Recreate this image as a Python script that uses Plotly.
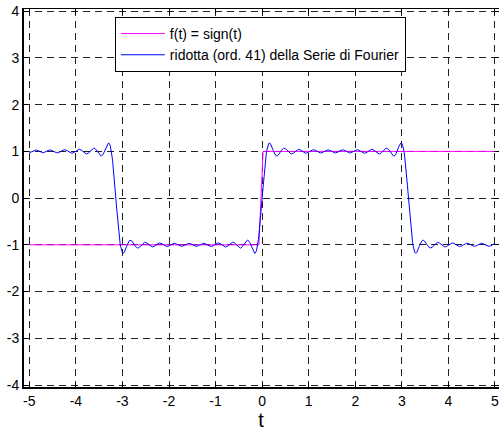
import numpy as np
import plotly.graph_objects as go

# f(t) = sign(t) as drawn (sampled breakpoints)
sign_t = [-5.0, -0.07, 0.02, 5.0]
sign_y = [-1.0, -1.0, 1.0, 1.0]

# truncated Fourier series (41 terms, n = -20..20 -> odd harmonics up to 19)
harmonics = [1, 3, 5, 7, 9, 11, 13, 15, 17, 19]
t_grid_start, t_grid_stop, t_grid_step = -5.0, 5.0, 0.01

x_ticks = [-5, -4, -3, -2, -1, 0, 1, 2, 3, 4, 5]
y_ticks = [-4, -3, -2, -1, 0, 1, 2, 3, 4]

t = np.arange(t_grid_start, t_grid_stop + t_grid_step / 2, t_grid_step)
four = np.zeros_like(t)
for n in harmonics:
    four += 4.0 / (np.pi * n) * np.sin(n * t)

fig = go.Figure()
fig.add_trace(go.Scatter(x=sign_t, y=sign_y, mode="lines",
                         line=dict(color="#ff00ff", width=1),
                         name="f(t) = sign(t)"))
fig.add_trace(go.Scatter(x=t, y=four, mode="lines",
                         line=dict(color="#0000ff", width=1),
                         name="ridotta (ord. 41) della Serie di Fourier"))

axis_common = dict(
    showline=True, linecolor="black", linewidth=1, mirror="ticks",
    ticks="inside", ticklen=5, tickcolor="black", tickwidth=1,
    showgrid=True, gridcolor="#222222", gridwidth=1, griddash="7px,5px",
    zeroline=False, ticklabeloverflow="allow",
    tickfont=dict(family="Liberation Sans, Arial", size=14, color="black"),
)

fig.update_layout(
    width=499, height=431,
    margin=dict(l=23, r=0, t=9, b=43),
    paper_bgcolor="white", plot_bgcolor="white",
    xaxis=dict(range=[-5.135, 5.086], tickvals=x_ticks,
               ticktext=[str(v) for v in x_ticks],
               title=dict(text="t", font=dict(family="Liberation Sans, Arial", size=20, color="black"),
                          standoff=7),
               **axis_common),
    yaxis=dict(range=[-4.064, 4.047], tickvals=y_ticks,
               ticktext=[str(v) for v in y_ticks], ticklabelstandoff=0,
               **axis_common),
    legend=dict(x=0.193, y=0.979, xanchor="left", yanchor="top",
                bgcolor="white", bordercolor="black", borderwidth=1,
                font=dict(family="Liberation Sans, Arial", size=14, color="black"),
                tracegroupgap=0, itemwidth=44),
    showlegend=True,
)

# thicker left and bottom axis lines (MATLAB look)
fig.add_shape(type="line", xref="paper", yref="paper", x0=0, x1=0, y0=0, y1=1,
              line=dict(color="black", width=2))
fig.add_shape(type="line", xref="paper", yref="paper", x0=0, x1=1, y0=0, y1=0,
              line=dict(color="black", width=2))

fig.write_html("out.html")
